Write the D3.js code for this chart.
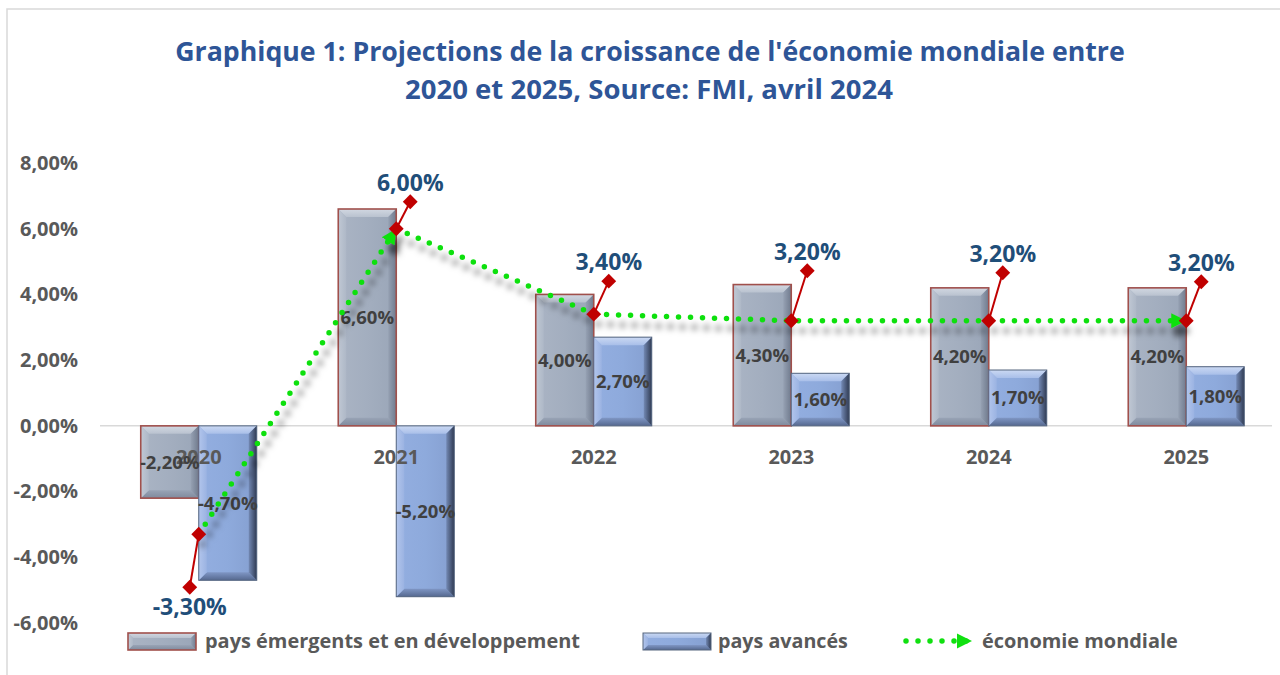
<!DOCTYPE html>
<html>
<head>
<meta charset="utf-8">
<script src="https://cdn.jsdelivr.net/npm/d3@7"></script>
<style>
  html, body { margin: 0; padding: 0; background: #ffffff; }
  svg { display: block; }
  text { font-family: "Open Sans", "Noto Sans", sans-serif; font-weight: 700; }
</style>
</head>
<body>
<svg id="chart" width="1280" height="675"></svg>
<script>
// ---------- data ----------
const years = ["2020", "2021", "2022", "2023", "2024", "2025"];
const emerging = [-2.2, 6.6, 4.0, 4.3, 4.2, 4.2];
const advanced = [-4.7, -5.2, 2.7, 1.6, 1.7, 1.8];
const world = [-3.3, 6.0, 3.4, 3.2, 3.2, 3.2];
const yTicks = [-6, -4, -2, 0, 2, 4, 6, 8];
const seriesNames = ["pays émergents et en développement", "pays avancés", "économie mondiale"];
const titleLines = ["Graphique 1: Projections de la croissance de l'économie mondiale entre",
                    "2020 et 2025, Source: FMI, avril 2024"];
// leader-line offsets (px) for the "économie mondiale" data labels
const labelOffsets = [[-9, 53], [14, -27], [15, -33], [16, -50], [14, -48], [15, -39]];

// ---------- setup ----------
const svg = d3.select("#chart");
const loc = d3.formatLocale({decimal: ",", thousands: " ", grouping: [3], currency: ["", ""], minus: "-"});
const fmt = v => loc.format(".2f")(v) + "%";

const x = d3.scaleBand().domain(years).range([100, 1285]).paddingInner(0).paddingOuter(0);
const y = d3.scaleLinear().domain([-6, 8]).range([623, 163]);
const barW = 58;
const inner = d3.scaleBand().domain(["e", "a"]).range([-barW, barW]);
const cx = d => x(d) + x.bandwidth() / 2;

const defs = svg.append("defs");
const shadow = defs.append("filter").attr("id", "shadow")
  .attr("x", "-20%").attr("y", "-20%").attr("width", "140%").attr("height", "160%");
shadow.append("feDropShadow").attr("dx", 4).attr("dy", 10).attr("stdDeviation", 3.2)
  .attr("flood-color", "#000").attr("flood-opacity", 0.55);

function marker(id, w, h) {
  defs.append("marker").attr("id", id).attr("markerUnits", "userSpaceOnUse")
    .attr("viewBox", "0 0 10 10").attr("refX", 10).attr("refY", 5)
    .attr("markerWidth", w).attr("markerHeight", h).attr("orient", "auto")
    .append("path").attr("d", "M0,0 L10,5 L0,10 Z").attr("fill", "#10e010");
}
marker("arrow", 15, 17);

function grad(id, dir, stops) {
  const g = defs.append("linearGradient").attr("id", id)
    .attr("x1", 0).attr("y1", 0)
    .attr("x2", dir === "h" ? 1 : 0).attr("y2", dir === "h" ? 0 : 1);
  stops.forEach(s => g.append("stop").attr("offset", s[0]).attr("stop-color", s[1]));
  return `url(#${id})`;
}

// frame
svg.append("rect").attr("x", 7).attr("y", 9).attr("width", 1290).attr("height", 700)
  .attr("fill", "none").attr("stroke", "#d9d9d9").attr("stroke-width", 1.5);

// ---------- title ----------
function fitText(sel, target) {
  const len = sel.node().getComputedTextLength();
  const fs = parseFloat(sel.attr("font-size"));
  sel.attr("font-size", fs * target / len);
}
const t1 = svg.append("text").attr("x", 650).attr("y", 61).attr("text-anchor", "middle")
  .attr("font-size", 24).attr("fill", "#2e5597").text(titleLines[0]);
fitText(t1, 950);
const t2 = svg.append("text").attr("x", 649).attr("y", 99).attr("text-anchor", "middle")
  .attr("font-size", 24).attr("fill", "#2e5597").text(titleLines[1]);
fitText(t2, 488);

// ---------- axes ----------
const yAxis = svg.append("g").attr("transform", "translate(82,0)")
  .call(d3.axisLeft(y).tickValues(yTicks).tickFormat(fmt).tickSize(0).tickPadding(4));
yAxis.select(".domain").remove();
yAxis.selectAll("text").attr("font-size", 20).attr("fill", "#595959")
  .attr("font-family", "Open Sans").attr("font-weight", 700);

svg.append("line").attr("x1", 100).attr("x2", 1272).attr("y1", y(0)).attr("y2", y(0))
  .attr("stroke", "#d9d9d9").attr("stroke-width", 1.5);

// ---------- bars ----------
const styles = {
  e: {base: grad("eBase", "h", [[0, "#aab4c4"], [0.5, "#a3aebf"], [1, "#9aa6b8"]]),
      top: grad("eTop", "v", [[0, "#d2d8e2"], [1, "#b9c2cf"]]),
      left: grad("eLeft", "h", [[0, "#c0c8d4"], [1, "#aeb8c7"]]),
      right: grad("eRight", "h", [[0, "#96a1b3"], [1, "#6f7a8d"]]),
      bottom: grad("eBottom", "v", [[0, "#98a3b5"], [1, "#7f8a9d"]]),
      stroke: "#a0504c", sw: 1.6},
  a: {base: grad("aBase", "h", [[0, "#93aee0"], [0.5, "#8eaadc"], [1, "#859fd0"]]),
      top: grad("aTop", "v", [[0, "#cbd9f3"], [1, "#a9bfe9"]]),
      left: grad("aLeft", "h", [[0, "#b2c5ec"], [1, "#9bb3e2"]]),
      right: grad("aRight", "h", [[0, "#7389b4"], [1, "#2f3a52"]]),
      bottom: grad("aBottom", "v", [[0, "#7f96c4"], [1, "#55688f"]]),
      stroke: "#56667f", sw: 1}
};
function bevelBar(g, x0, y0, w, h, st, b) {
  const x1 = x0 + w, y1 = y0 + h;
  b = Math.min(b, h / 3, w / 3);
  g.append("rect").attr("x", x0).attr("y", y0).attr("width", w).attr("height", h).attr("fill", st.base);
  const poly = (pts, c) => g.append("polygon").attr("points", pts.map(p => p.join(",")).join(" ")).attr("fill", c);
  poly([[x0, y0], [x1, y0], [x1 - b, y0 + b], [x0 + b, y0 + b]], st.top);
  poly([[x0, y1], [x1, y1], [x1 - b, y1 - b], [x0 + b, y1 - b]], st.bottom);
  poly([[x0, y0], [x0 + b, y0 + b], [x0 + b, y1 - b], [x0, y1]], st.left);
  poly([[x1, y0], [x1 - b, y0 + b], [x1 - b, y1 - b], [x1, y1]], st.right);
  g.append("rect").attr("x", x0).attr("y", y0).attr("width", w).attr("height", h)
    .attr("fill", "none").attr("stroke", st.stroke).attr("stroke-width", st.sw);
}
const barsG = svg.append("g");
const barData = [];
years.forEach((yr, i) => {
  barData.push({yr, key: "e", v: emerging[i]});
  barData.push({yr, key: "a", v: advanced[i]});
});
barData.forEach(d => {
  const x0 = cx(d.yr) + inner(d.key);
  const y0 = Math.min(y(d.v), y(0));
  const h = Math.abs(y(d.v) - y(0));
  bevelBar(barsG, x0, y0, inner.bandwidth(), h, styles[d.key], 8);
});

// category labels
const xAxis = svg.append("g").attr("transform", `translate(0,${y(0)})`)
  .call(d3.axisBottom(x).tickSize(0).tickPadding(24));
xAxis.select(".domain").remove();
xAxis.selectAll("text").attr("font-size", 20).attr("fill", "#595959")
  .attr("font-family", "Open Sans").attr("font-weight", 700);

// bar labels
svg.append("g").selectAll("text").data(barData).join("text")
  .attr("x", d => cx(d.yr) + inner(d.key) + inner.bandwidth() / 2)
  .attr("y", d => (y(d.v) + y(0)) / 2 + 6.5)
  .attr("text-anchor", "middle").attr("font-size", 18.5).attr("fill", "#404040")
  .text(d => fmt(d.v));

// ---------- world line ----------
const line = d3.line().x(d => cx(d.yr)).y(d => y(d.v));
const worldData = years.map((yr, i) => ({yr, v: world[i]}));
const lineG = svg.append("g").attr("filter", "url(#shadow)");
[worldData.slice(0, 2), worldData.slice(1)].forEach(seg => {
  lineG.append("path").attr("d", line(seg)).attr("fill", "none")
    .attr("stroke", "#10e010").attr("stroke-width", 5.5).attr("stroke-linecap", "round")
    .attr("stroke-dasharray", "0 12").attr("marker-end", "url(#arrow)");
});

// leader lines & diamonds
const diamond = d3.symbol().type(d3.symbolSquare).size(110);
const lblG = svg.append("g");
worldData.forEach((d, i) => {
  const px = cx(d.yr), py = y(d.v);
  const qx = px + labelOffsets[i][0], qy = py + labelOffsets[i][1];
  lblG.append("line").attr("x1", px).attr("y1", py).attr("x2", qx).attr("y2", qy)
    .attr("stroke", "#c00000").attr("stroke-width", 2);
  [[px, py], [qx, qy]].forEach(p => {
    lblG.append("path").attr("d", diamond).attr("fill", "#c00000")
      .attr("transform", `translate(${p[0]},${p[1]}) rotate(45)`);
  });
  const below = labelOffsets[i][1] > 0;
  lblG.append("text").attr("x", qx).attr("y", below ? qy + 28 : qy - 11)
    .attr("text-anchor", "middle").attr("font-size", 23).attr("fill", "#1f4e79")
    .text(fmt(d.v));
});

// ---------- legend ----------
const leg = svg.append("g");
bevelBar(leg, 128, 633, 68, 17, styles.e, 5);
const l1 = leg.append("text").attr("x", 205).attr("y", 648).attr("font-size", 19).attr("fill", "#595959").text(seriesNames[0]);
fitText(l1, 375);
bevelBar(leg, 643, 633, 68, 17, styles.a, 5);
const l2 = leg.append("text").attr("x", 718).attr("y", 648).attr("font-size", 19).attr("fill", "#595959").text(seriesNames[1]);
fitText(l2, 130);
leg.append("line").attr("x1", 906).attr("x2", 972).attr("y1", 641).attr("y2", 641)
  .attr("stroke", "#10e010").attr("stroke-width", 5.5).attr("stroke-linecap", "round")
  .attr("stroke-dasharray", "0 12").attr("marker-end", "url(#arrow)");
const l3 = leg.append("text").attr("x", 982).attr("y", 648).attr("font-size", 19).attr("fill", "#595959").text(seriesNames[2]);
fitText(l3, 196);
</script>
</body>
</html>
